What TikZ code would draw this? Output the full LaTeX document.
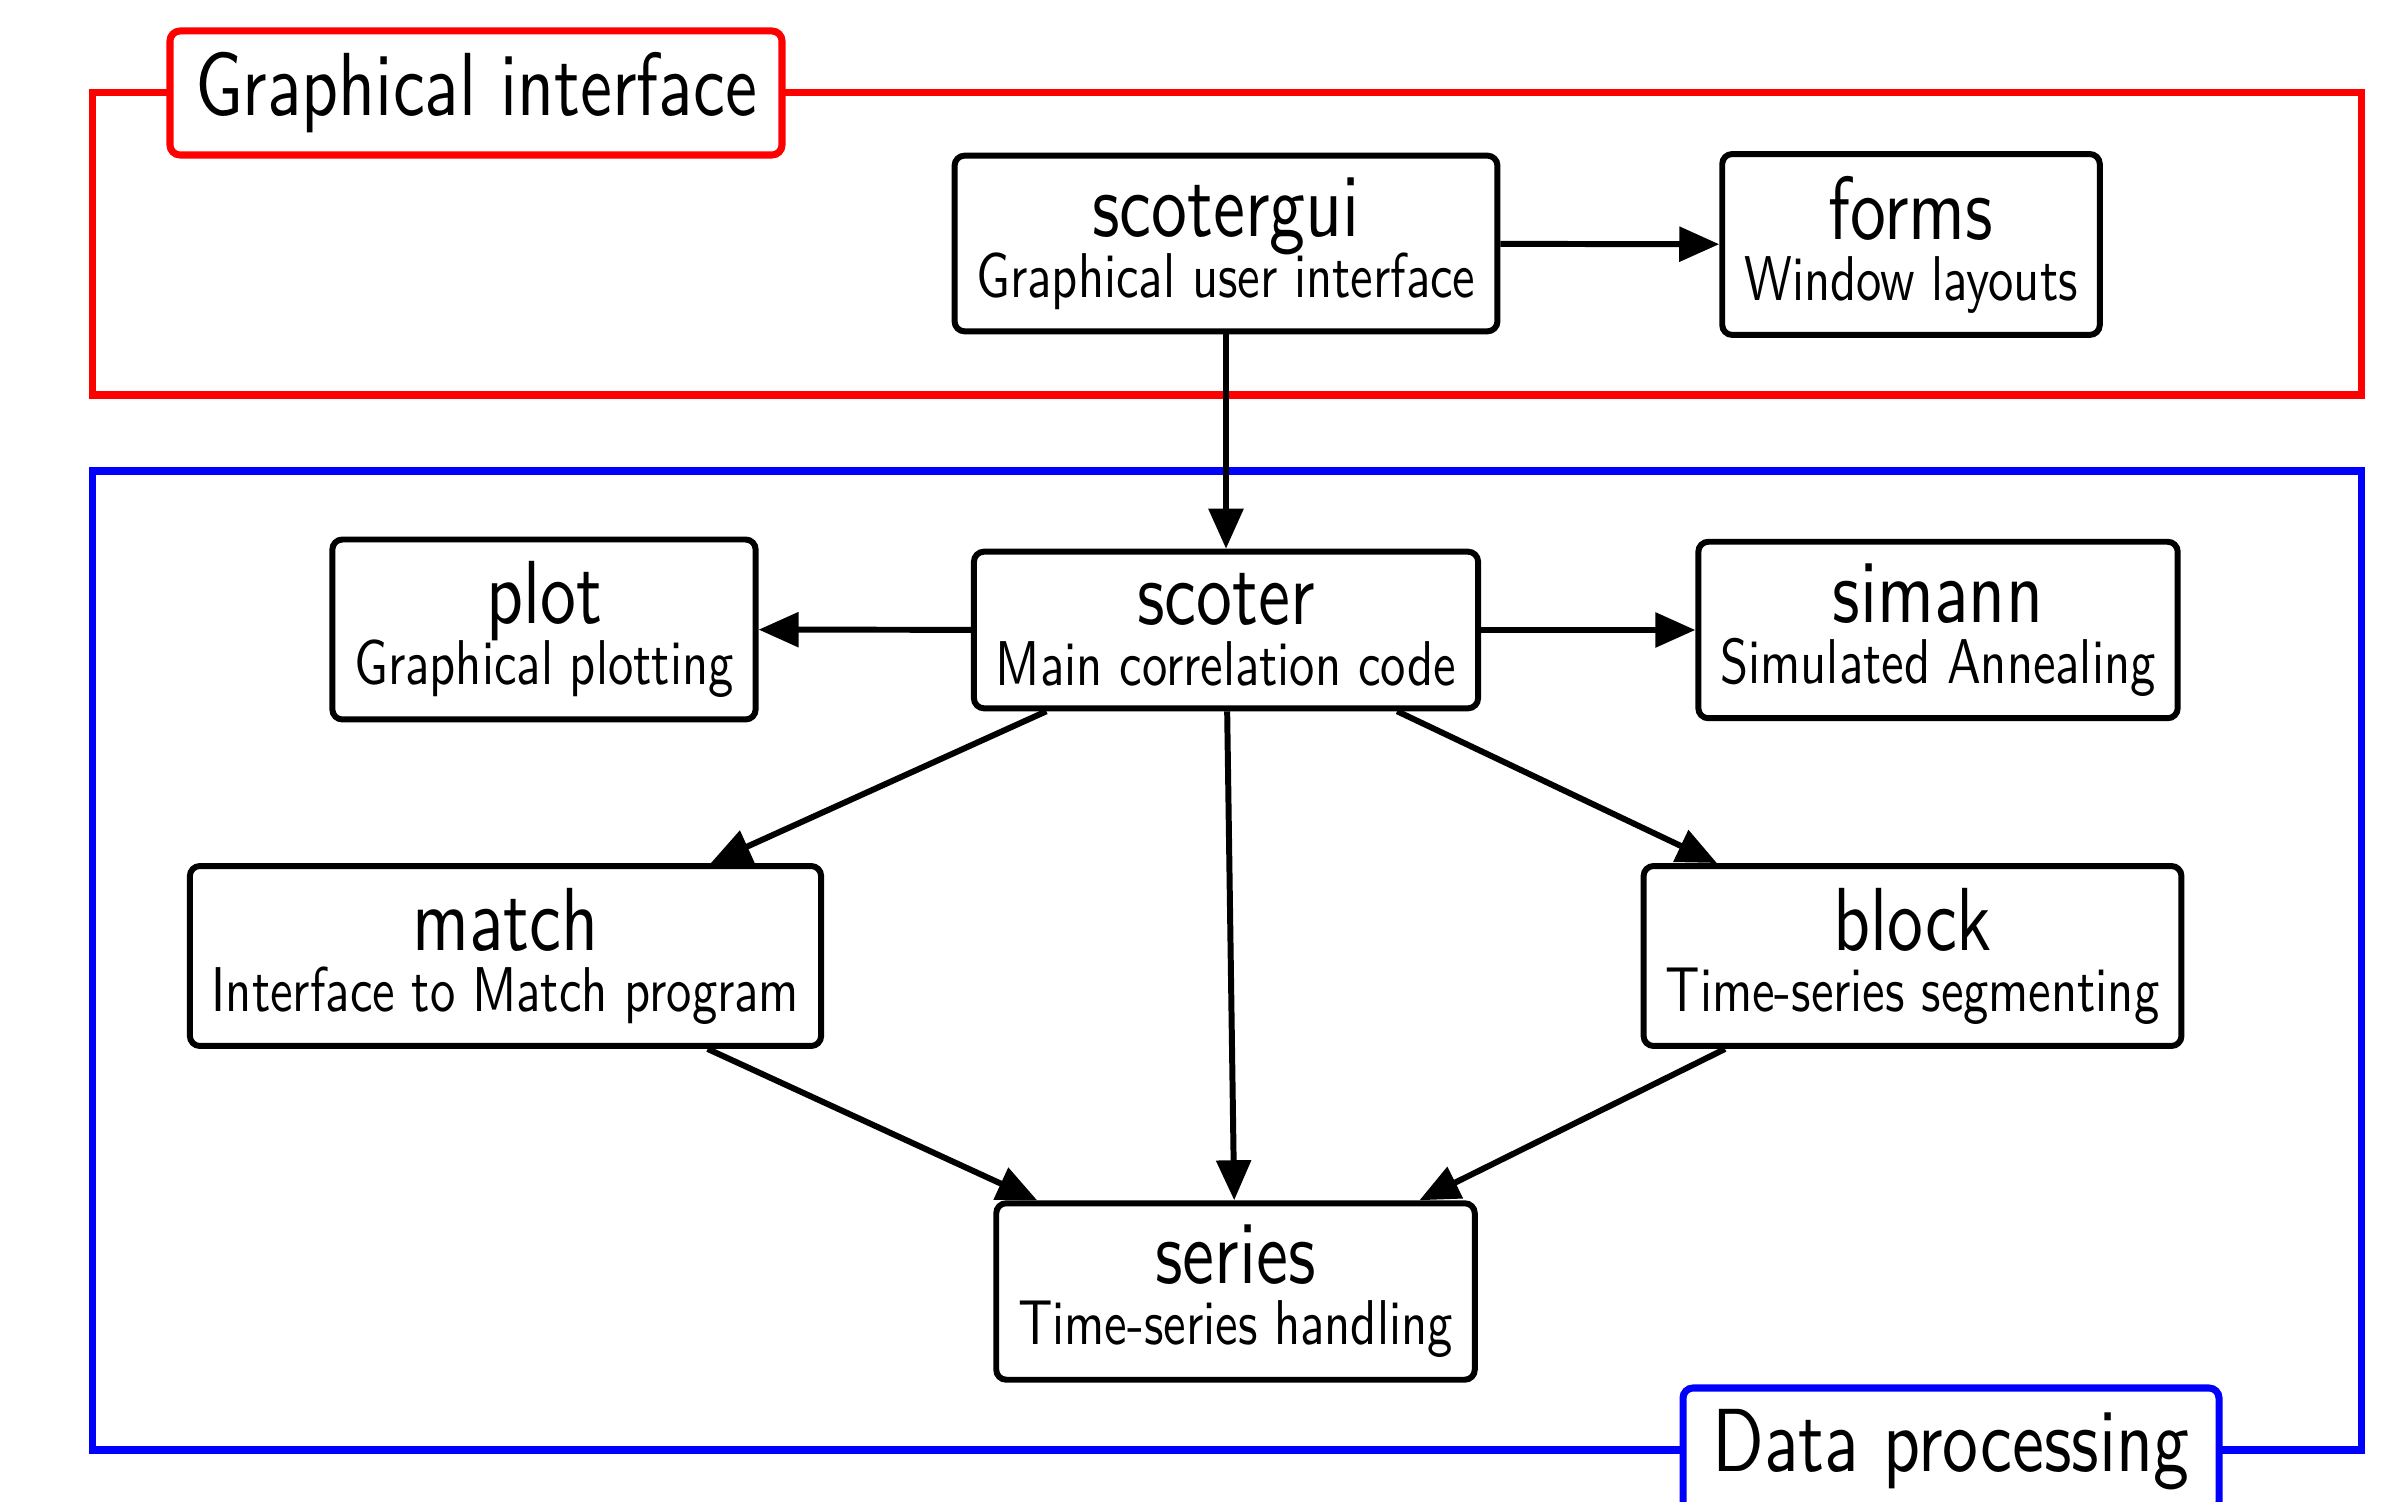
\documentclass[tikz,border=0pt]{standalone}
\usepackage{fontspec}
\usetikzlibrary{arrows.meta}
% condensed sans used for every label
\newfontfamily\condsans{lmsans10-regular.otf}[FakeStretch=0.8]
\newcommand{\titlefont}{\condsans\fontsize{25.5pt}{30pt}\selectfont}
\newcommand{\subfont}{\condsans\fontsize{18pt}{17.4pt}\selectfont\lineskiplimit=-50pt}
\begin{document}
\begin{tikzpicture}[
  modbox/.style={draw=black, line width=1.7pt, rounded corners=0.1cm, fill=white,
    align=center, inner xsep=0.22cm, inner ysep=6.2pt, font=\subfont},
  link/.style={line width=1.7pt, -{Triangle[length=0.4cm,width=0.34cm]}},
  frame/.style={line width=2pt},
  grouplabel/.style={fill=white, line width=2pt, rounded corners=0.1cm,
    minimum height=1.24cm, inner sep=0pt, font=\titlefont}
]
\useasboundingbox (0,0) rectangle (23.99,-15.02);

% group frames
\draw[frame, red]  (0.925,-0.925) rectangle (23.61,-3.95);
\draw[frame, blue] (0.925,-4.71)  rectangle (23.61,-14.5);
\node[grouplabel, draw=red, minimum width=6.12cm]  (guilabel)  at (4.76,-0.93)  {Graphical interface};
\node[grouplabel, draw=blue, minimum width=5.36cm] (datalabel) at (19.51,-14.5) {Data processing};

% modules
\node[modbox] (gui)    at (12.26,-2.435)  {{\titlefont scotergui}\\Graphical user interface};
\node[modbox] (forms)  at (19.11,-2.445)  {{\titlefont forms}\\Window layouts};
\node[modbox] (plot)   at (5.44,-6.295)   {{\titlefont plot}\\Graphical plotting};
\node[modbox] (scoter) at (12.26,-6.30)   {{\titlefont scoter}\\Main correlation code};
\node[modbox] (simann) at (19.38,-6.30)   {{\titlefont simann}\\Simulated Annealing};
\node[modbox] (match)  at (5.055,-9.56)   {{\titlefont match}\\Interface to Match program};
\node[modbox] (block)  at (19.125,-9.56)  {{\titlefont block}\\Time-series segmenting};
\node[modbox] (series) at (12.355,-12.915){{\titlefont series}\\Time-series handling};

% dependencies
\draw[link] (gui) -- (forms);
\draw[link] (gui) -- (scoter);
\draw[link] (scoter) -- (plot);
\draw[link] (scoter) -- (simann);
\draw[link] (scoter) -- (match);
\draw[link] (scoter) -- (block);
\draw[link] (scoter) -- (series);
\draw[link] (match) -- (series);
\draw[link] (block) -- (series);
\end{tikzpicture}
\end{document}
